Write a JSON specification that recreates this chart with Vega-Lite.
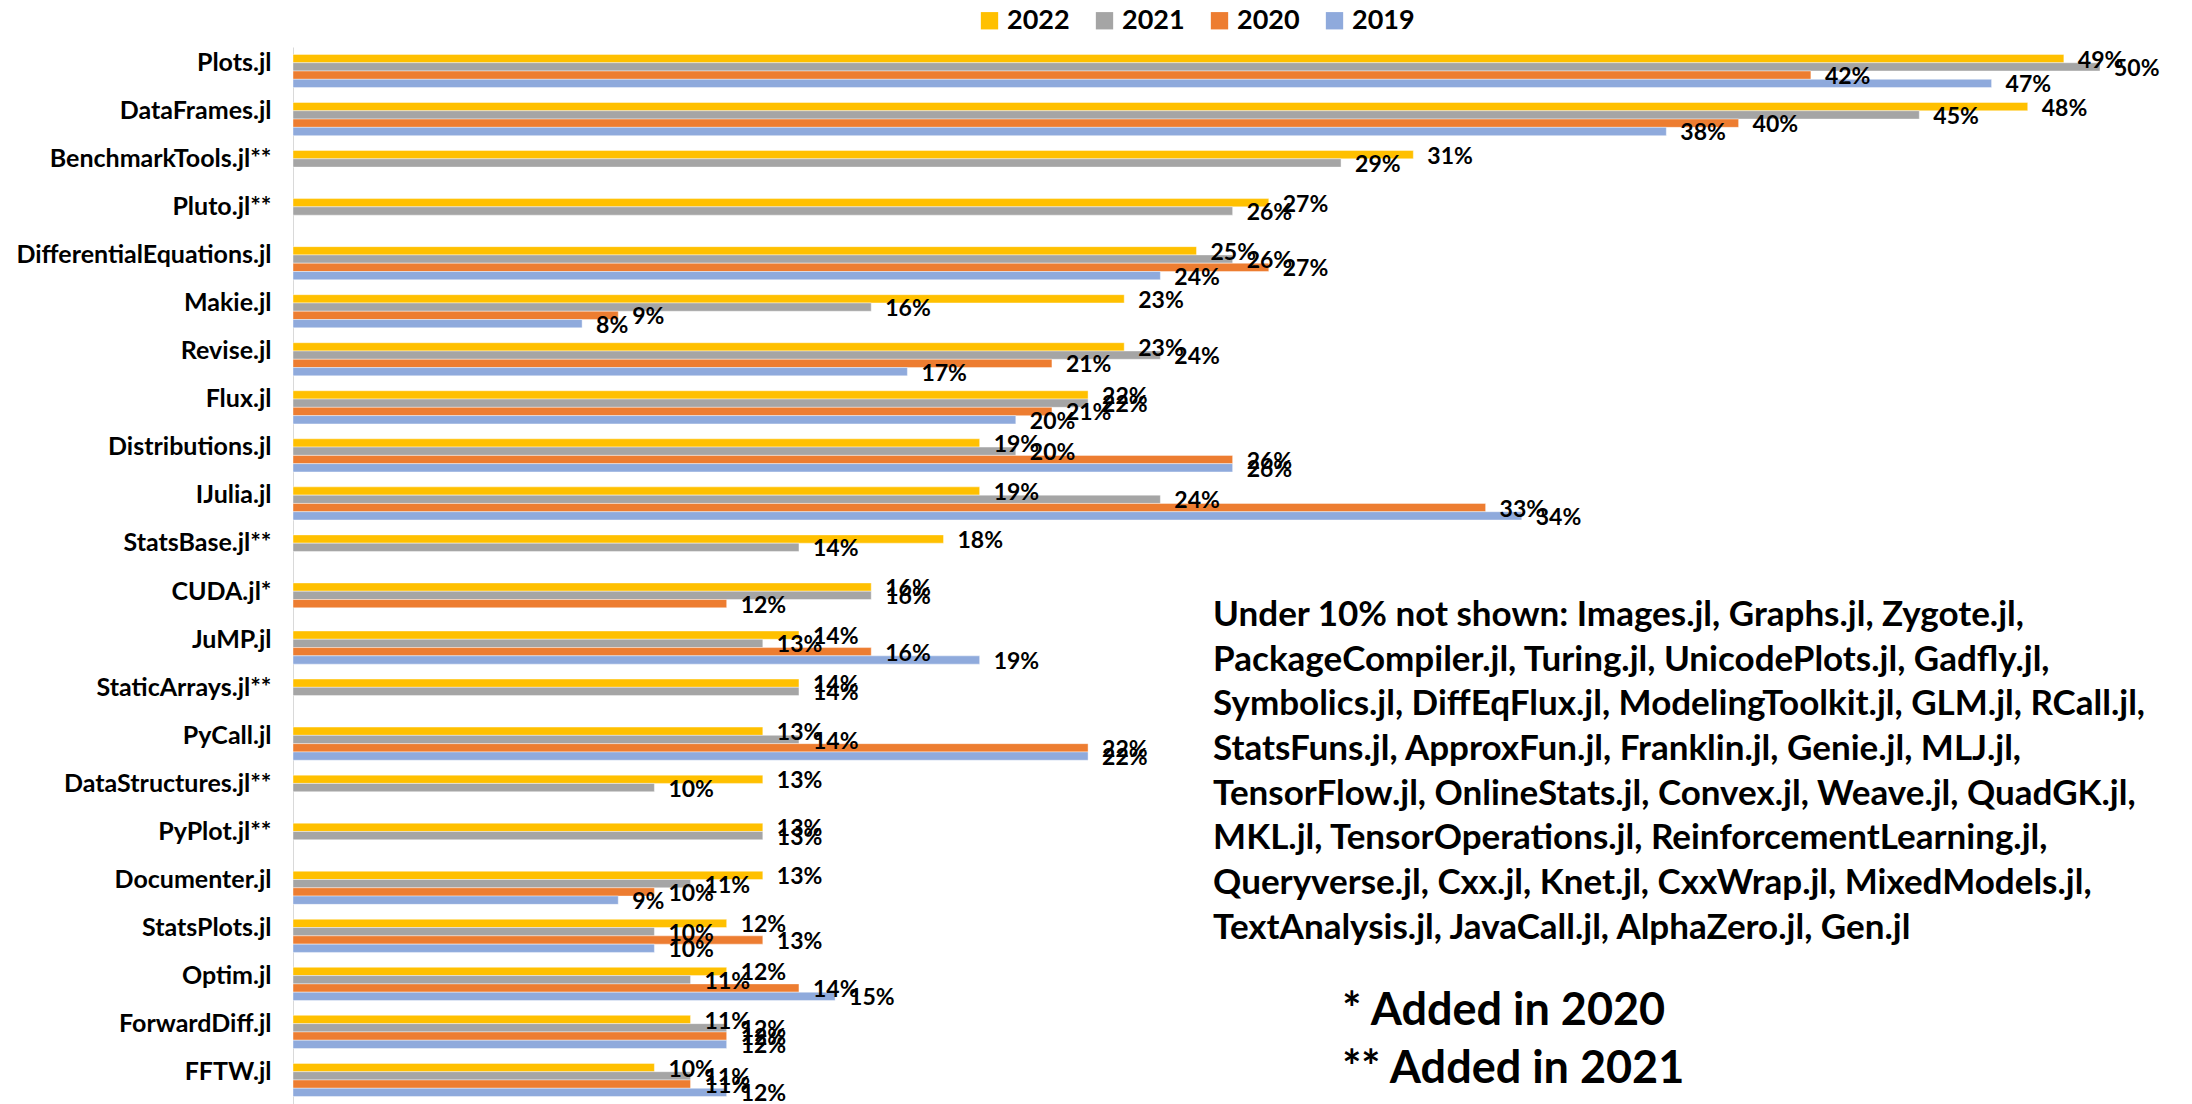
{
  "$schema": "https://vega.github.io/schema/vega-lite/v6.json",
  "autosize": {"type": "none"},
  "padding": {"left": 293, "top": 47, "right": 92, "bottom": 0},
  "width": 1807,
  "height": 1057,
  "background": "white",
  "config": {"view": {"stroke": null}, "font": "Lato"},
  "datasets": {
    "bars": [
      {"pkg": "Plots.jl", "year": "2022", "v": 0.49}, {"pkg": "Plots.jl", "year": "2021", "v": 0.50}, {"pkg": "Plots.jl", "year": "2020", "v": 0.42}, {"pkg": "Plots.jl", "year": "2019", "v": 0.47},
      {"pkg": "DataFrames.jl", "year": "2022", "v": 0.48}, {"pkg": "DataFrames.jl", "year": "2021", "v": 0.45}, {"pkg": "DataFrames.jl", "year": "2020", "v": 0.40}, {"pkg": "DataFrames.jl", "year": "2019", "v": 0.38},
      {"pkg": "BenchmarkTools.jl**", "year": "2022", "v": 0.31}, {"pkg": "BenchmarkTools.jl**", "year": "2021", "v": 0.29},
      {"pkg": "Pluto.jl**", "year": "2022", "v": 0.27}, {"pkg": "Pluto.jl**", "year": "2021", "v": 0.26},
      {"pkg": "DifferentialEquations.jl", "year": "2022", "v": 0.25}, {"pkg": "DifferentialEquations.jl", "year": "2021", "v": 0.26}, {"pkg": "DifferentialEquations.jl", "year": "2020", "v": 0.27}, {"pkg": "DifferentialEquations.jl", "year": "2019", "v": 0.24},
      {"pkg": "Makie.jl", "year": "2022", "v": 0.23}, {"pkg": "Makie.jl", "year": "2021", "v": 0.16}, {"pkg": "Makie.jl", "year": "2020", "v": 0.09}, {"pkg": "Makie.jl", "year": "2019", "v": 0.08},
      {"pkg": "Revise.jl", "year": "2022", "v": 0.23}, {"pkg": "Revise.jl", "year": "2021", "v": 0.24}, {"pkg": "Revise.jl", "year": "2020", "v": 0.21}, {"pkg": "Revise.jl", "year": "2019", "v": 0.17},
      {"pkg": "Flux.jl", "year": "2022", "v": 0.22}, {"pkg": "Flux.jl", "year": "2021", "v": 0.22}, {"pkg": "Flux.jl", "year": "2020", "v": 0.21}, {"pkg": "Flux.jl", "year": "2019", "v": 0.20},
      {"pkg": "Distributions.jl", "year": "2022", "v": 0.19}, {"pkg": "Distributions.jl", "year": "2021", "v": 0.20}, {"pkg": "Distributions.jl", "year": "2020", "v": 0.26}, {"pkg": "Distributions.jl", "year": "2019", "v": 0.26},
      {"pkg": "IJulia.jl", "year": "2022", "v": 0.19}, {"pkg": "IJulia.jl", "year": "2021", "v": 0.24}, {"pkg": "IJulia.jl", "year": "2020", "v": 0.33}, {"pkg": "IJulia.jl", "year": "2019", "v": 0.34},
      {"pkg": "StatsBase.jl**", "year": "2022", "v": 0.18}, {"pkg": "StatsBase.jl**", "year": "2021", "v": 0.14},
      {"pkg": "CUDA.jl*", "year": "2022", "v": 0.16}, {"pkg": "CUDA.jl*", "year": "2021", "v": 0.16}, {"pkg": "CUDA.jl*", "year": "2020", "v": 0.12},
      {"pkg": "JuMP.jl", "year": "2022", "v": 0.14}, {"pkg": "JuMP.jl", "year": "2021", "v": 0.13}, {"pkg": "JuMP.jl", "year": "2020", "v": 0.16}, {"pkg": "JuMP.jl", "year": "2019", "v": 0.19},
      {"pkg": "StaticArrays.jl**", "year": "2022", "v": 0.14}, {"pkg": "StaticArrays.jl**", "year": "2021", "v": 0.14},
      {"pkg": "PyCall.jl", "year": "2022", "v": 0.13}, {"pkg": "PyCall.jl", "year": "2021", "v": 0.14}, {"pkg": "PyCall.jl", "year": "2020", "v": 0.22}, {"pkg": "PyCall.jl", "year": "2019", "v": 0.22},
      {"pkg": "DataStructures.jl**", "year": "2022", "v": 0.13}, {"pkg": "DataStructures.jl**", "year": "2021", "v": 0.10},
      {"pkg": "PyPlot.jl**", "year": "2022", "v": 0.13}, {"pkg": "PyPlot.jl**", "year": "2021", "v": 0.13},
      {"pkg": "Documenter.jl", "year": "2022", "v": 0.13}, {"pkg": "Documenter.jl", "year": "2021", "v": 0.11}, {"pkg": "Documenter.jl", "year": "2020", "v": 0.10}, {"pkg": "Documenter.jl", "year": "2019", "v": 0.09},
      {"pkg": "StatsPlots.jl", "year": "2022", "v": 0.12}, {"pkg": "StatsPlots.jl", "year": "2021", "v": 0.10}, {"pkg": "StatsPlots.jl", "year": "2020", "v": 0.13}, {"pkg": "StatsPlots.jl", "year": "2019", "v": 0.10},
      {"pkg": "Optim.jl", "year": "2022", "v": 0.12}, {"pkg": "Optim.jl", "year": "2021", "v": 0.11}, {"pkg": "Optim.jl", "year": "2020", "v": 0.14}, {"pkg": "Optim.jl", "year": "2019", "v": 0.15},
      {"pkg": "ForwardDiff.jl", "year": "2022", "v": 0.11}, {"pkg": "ForwardDiff.jl", "year": "2021", "v": 0.12}, {"pkg": "ForwardDiff.jl", "year": "2020", "v": 0.12}, {"pkg": "ForwardDiff.jl", "year": "2019", "v": 0.12},
      {"pkg": "FFTW.jl", "year": "2022", "v": 0.10}, {"pkg": "FFTW.jl", "year": "2021", "v": 0.11}, {"pkg": "FFTW.jl", "year": "2020", "v": 0.11}, {"pkg": "FFTW.jl", "year": "2019", "v": 0.12}
    ],
    "note1": [
      {"pkg": "CUDA.jl*", "v": 0.2546, "txt": "Under 10% not shown: Images.jl, Graphs.jl, Zygote.jl,\nPackageCompiler.jl, Turing.jl, UnicodePlots.jl, Gadfly.jl,\nSymbolics.jl, DiffEqFlux.jl, ModelingToolkit.jl, GLM.jl, RCall.jl,\nStatsFuns.jl, ApproxFun.jl, Franklin.jl, Genie.jl, MLJ.jl,\nTensorFlow.jl, OnlineStats.jl, Convex.jl, Weave.jl, QuadGK.jl,\nMKL.jl, TensorOperations.jl, ReinforcementLearning.jl,\nQueryverse.jl, Cxx.jl, Knet.jl, CxxWrap.jl, MixedModels.jl,\nTextAnalysis.jl, JavaCall.jl, AlphaZero.jl, Gen.jl"}
    ],
    "note2": [
      {"pkg": "Optim.jl", "v": 0.2903, "txt": "* Added in 2020\n** Added in 2021"}
    ]
  },
  "encoding": {
    "y": {
      "field": "pkg", "type": "nominal",
      "sort": ["Plots.jl", "DataFrames.jl", "BenchmarkTools.jl**", "Pluto.jl**", "DifferentialEquations.jl", "Makie.jl", "Revise.jl", "Flux.jl", "Distributions.jl", "IJulia.jl", "StatsBase.jl**", "CUDA.jl*", "JuMP.jl", "StaticArrays.jl**", "PyCall.jl", "DataStructures.jl**", "PyPlot.jl**", "Documenter.jl", "StatsPlots.jl", "Optim.jl", "ForwardDiff.jl", "FFTW.jl"],
      "scale": {"paddingInner": 0.31, "paddingOuter": 0.155},
      "axis": {"title": null, "ticks": false, "domainColor": "#D9D9D9", "domainWidth": 1, "labelFont": "Lato", "labelFontWeight": "bold", "labelFontSize": 25, "labelColor": "#000000", "labelPadding": 22, "labelLimit": 400, "labelOffset": -8}
    },
    "x": {
      "field": "v", "type": "quantitative",
      "scale": {"domain": [0, 0.5], "nice": false},
      "axis": null
    }
  },
  "layer": [
    {
      "data": {"name": "bars"},
      "mark": {"type": "bar", "stroke": "#ffffff", "strokeWidth": 0.6, "strokeOpacity": 0.7},
      "encoding": {
        "yOffset": {"field": "year", "type": "nominal", "sort": ["2022", "2021", "2020", "2019"], "scale": {"domain": ["2022", "2021", "2020", "2019"], "paddingInner": 0, "paddingOuter": 0}},
        "color": {
          "field": "year", "type": "nominal",
          "scale": {"domain": ["2022", "2021", "2020", "2019"], "range": ["#FFC000", "#A5A5A5", "#ED7D31", "#8FAADC"]},
          "legend": {"title": null, "orient": "none", "direction": "horizontal", "legendX": 683, "legendY": -40, "symbolType": "square", "symbolSize": 300, "symbolStrokeWidth": 0, "labelFont": "Lato", "labelFontWeight": "bold", "labelFontSize": 27, "labelColor": "#000000", "labelOffset": 4, "columnPadding": 21}
        }
      }
    },
    {
      "data": {"name": "bars"},
      "mark": {"type": "text", "align": "left", "baseline": "middle", "dx": 14, "dy": 2, "font": "Lato", "fontWeight": "bold", "fontSize": 23, "color": "#000000"},
      "encoding": {
        "yOffset": {"field": "year", "type": "nominal", "sort": ["2022", "2021", "2020", "2019"], "scale": {"domain": ["2022", "2021", "2020", "2019"], "paddingInner": 0, "paddingOuter": 0}},
        "text": {"field": "v", "type": "quantitative", "format": ".0%"}
      }
    },
    {
      "data": {"name": "note1"},
      "mark": {"type": "text", "align": "left", "baseline": "top", "lineBreak": "\n", "lineHeight": 44.7, "font": "Lato", "fontWeight": "bold", "fontSize": 35, "color": "#000000"},
      "encoding": {
        "y": {"field": "pkg", "type": "nominal", "bandPosition": 0.45},
        "text": {"field": "txt"}
      }
    },
    {
      "data": {"name": "note2"},
      "mark": {"type": "text", "align": "left", "baseline": "top", "lineBreak": "\n", "lineHeight": 58, "font": "Lato", "fontWeight": "bold", "fontSize": 45, "color": "#000000"},
      "encoding": {
        "y": {"field": "pkg", "type": "nominal", "bandPosition": 0.65},
        "text": {"field": "txt"}
      }
    }
  ]
}
